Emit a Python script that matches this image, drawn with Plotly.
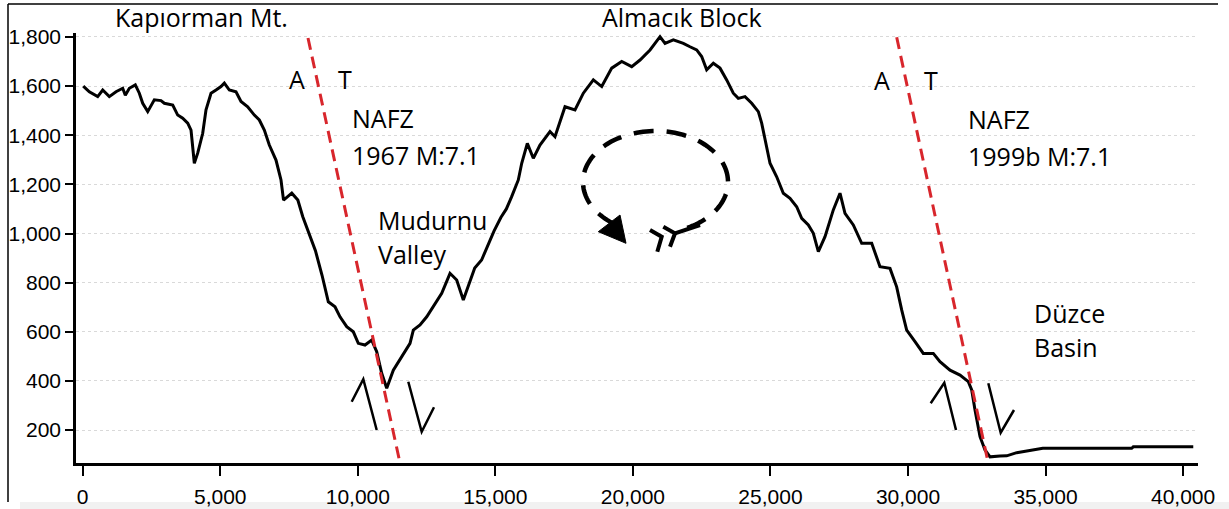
import numpy as np
import plotly.graph_objects as go

# topographic profile across the Almacik block (distance in m, elevation in m)
distance = [
    20, 240, 545, 727, 967, 1210, 1454, 1549, 1695, 1912, 2058, 2181, 2363, 2603,
    2846, 2967, 3272, 3453, 3635, 3817, 3937, 4057, 4180, 4362, 4482, 4664, 4846,
    5027, 5148, 5330, 5572, 5754, 5997, 6239, 6420, 6602, 6783, 7026, 7208, 7300,
    7600, 7820, 8000, 8220, 8460, 8700, 8928, 9171, 9353, 9597, 9837, 10018, 10262,
    10505, 10687, 10869, 11051, 11291, 11596, 11898, 12018, 12261, 12505, 12745,
    13050, 13352, 13595, 13835, 14079, 14250, 14500, 14744, 14950, 15200, 15400,
    15593, 15834, 15958, 16162, 16380, 16622, 16986, 17168, 17532, 17895, 18198,
    18562, 18867, 19230, 19593, 19957, 20259, 20623, 20986, 21168, 21470, 21834,
    22075, 22318, 22500, 22682, 22924, 23166, 23409, 23650, 23832, 24075, 24318,
    24560, 24681, 24802, 24984, 25227, 25468, 25711, 25954, 26136, 26377, 26559,
    26741, 26983, 27285, 27528, 27710, 28012, 28317, 28681, 28982, 29346, 29588,
    29770, 29952, 30255, 30556, 30920, 31163, 31527, 31890, 32192, 32316, 32436,
    32618, 32800, 32982, 33345, 33588, 33951, 34435, 34556, 34900, 38130, 38190,
    40370,
]
elevation = [
    1600, 1577, 1557, 1584, 1557, 1577, 1591, 1563, 1591, 1605, 1571, 1530, 1496, 1544,
    1541, 1530, 1523, 1482, 1469, 1449, 1421, 1286, 1327, 1408, 1503, 1571, 1584,
    1598, 1612, 1584, 1577, 1537, 1516, 1482, 1462, 1421, 1360, 1299, 1218, 1136,
    1164, 1136, 1068, 1000, 930, 830, 722, 702, 661, 621, 600, 553, 546,
    566, 519, 431, 370, 444, 498, 553, 607, 628, 661, 702,
    757, 838, 811, 729, 811, 860, 892, 960, 1010, 1065, 1100,
    1150, 1218, 1286, 1367, 1306, 1360, 1415, 1394, 1516, 1503, 1571,
    1625, 1598, 1673, 1700, 1679, 1706, 1747, 1801, 1774, 1788, 1774,
    1760, 1747, 1720, 1666, 1693, 1673, 1625, 1571, 1550, 1557, 1530,
    1496, 1449, 1381, 1286, 1231, 1164, 1143, 1109, 1062, 1035, 1001,
    926, 987, 1096, 1164, 1082, 1035, 960, 960, 865, 858, 783,
    689, 607, 560, 512, 512, 478, 444, 424, 397, 363, 282,
    173, 119, 91, 94, 95, 108, 116, 119, 126, 126, 132,
    132,
]
x_ticks = [0, 5000, 10000, 15000, 20000, 25000, 30000, 35000, 40000]
y_ticks = [200, 400, 600, 800, 1000, 1200, 1400, 1600, 1800]

# page / plot-area geometry
W, H = 1229, 509
L, R, T, B = 76, 31, 33, 46
XMIN, XMAX = -244, 40542
YMIN, YMAX = 66, 1816


def dx(px):
    return XMIN + (px - L) / (W - L - R) * (XMAX - XMIN)


def dy(py):
    return YMIN + (H - B - py) / (H - T - B) * (YMAX - YMIN)


def pxp(px):
    return (px - L) / (W - L - R)


def pyp(py):
    return (H - B - py) / (H - T - B)


def path(points, close=False):
    s = "M " + " L ".join(f"{dx(a)},{dy(b)}" for a, b in points)
    return s + (" Z" if close else "")


fig = go.Figure()

fig.add_trace(
    go.Scatter(
        x=distance,
        y=elevation,
        mode="lines",
        line=dict(color="black", width=3),
        showlegend=False,
    )
)

shapes = []

# fault traces
red = "#d8262c"
for top, bot in [((308, 38), (400, 463)), ((896.7, 37.3), (988.3, 463.3))]:
    shapes.append(dict(
        type="line", xref="x", yref="y",
        x0=dx(top[0]), y0=dy(top[1]), x1=dx(bot[0]), y1=dy(bot[1]),
        line=dict(color=red, width=3, dash="12px,7px"),
    ))

# half-arrows (relative motion)
for pts in [
    [(376.7, 430), (363.3, 379.3), (351.7, 401.7)],
    [(408.3, 381.7), (421.7, 431.7), (434, 407.3)],
    [(956, 430), (944.3, 382.7), (930.7, 403.3)],
    [(988.3, 383.3), (1000.7, 432.7), (1014, 410)],
]:
    shapes.append(dict(type="path", xref="x", yref="y", path=path(pts),
                       line=dict(color="black", width=2.5)))

# rotation arrow
cx, cy, rx, ry = 655.5, 182, 72.5, 51
ang = np.radians(np.linspace(64, -236, 120))
arc = list(zip(cx + rx * np.cos(ang), cy + ry * np.sin(ang)))
shapes.append(dict(type="path", xref="x", yref="y", path=path(arc),
                   line=dict(color="black", width=4.5, dash="20px,13px")))
shapes.append(dict(type="path", xref="x", yref="y",
                   path=path([(598.3, 231.7), (620, 215), (626, 243.3)], close=True),
                   fillcolor="black", line=dict(color="black", width=1)))
for pts in [
    [(700, 225), (675, 233.3)],
    [(663.3, 226.7), (675, 233.3), (670, 246.7)],
    [(650, 230), (661.7, 236.7), (657.3, 251.7)],
]:
    shapes.append(dict(type="path", xref="x", yref="y", path=path(pts),
                       line=dict(color="black", width=4)))

# frame of the original figure
shapes.append(dict(type="line", xref="paper", yref="paper",
                   x0=pxp(8), y0=pyp(4), x1=pxp(1218), y1=pyp(4),
                   line=dict(color="black", width=1.5)))
shapes.append(dict(type="line", xref="paper", yref="paper",
                   x0=pxp(8), y0=pyp(4), x1=pxp(8), y1=pyp(502),
                   line=dict(color="black", width=1.5)))
shapes.append(dict(type="rect", xref="paper", yref="paper", layer="below",
                   x0=pxp(20), y0=pyp(502), x1=pxp(1229), y1=pyp(509),
                   fillcolor="#f1f1f1", line=dict(width=0)))

label_font = dict(family="Open Sans, sans-serif", size=25, color="black")
labels = [
    ("Kapıorman Mt.", 201, 17, "center"),
    ("Almacık Block", 682, 17, "center"),
    ("A", 297, 79, "center"),
    ("T", 345, 79, "center"),
    ("NAFZ", 350, 118, "left"),
    ("1967 M:7.1", 350, 155, "left"),
    ("Mudurnu", 376, 220, "left"),
    ("Valley", 376, 254, "left"),
    ("A", 881.7, 80, "center"),
    ("T", 931, 80, "center"),
    ("NAFZ", 966, 119, "left"),
    ("1999b M:7.1", 966, 156, "left"),
    ("Düzce", 1032, 313, "left"),
    ("Basin", 1032, 347, "left"),
]
annotations = [
    dict(text=t, x=pxp(px), y=pyp(py), xref="paper", yref="paper",
         xanchor=anc, yanchor="middle", showarrow=False, font=label_font)
    for t, px, py, anc in labels
]

axis_font = dict(family="Liberation Sans, Arial, sans-serif", size=21, color="black")

fig.update_layout(
    width=W,
    height=H,
    margin=dict(l=L, r=R, t=T, b=B),
    paper_bgcolor="white",
    plot_bgcolor="white",
    shapes=shapes,
    annotations=annotations,
    xaxis=dict(
        range=[XMIN, XMAX],
        tickvals=x_ticks,
        tickformat=",",
        ticks="outside",
        ticklen=10,
        tickwidth=2,
        tickcolor="black",
        ticklabelstandoff=3,
        automargin=False,
        showline=True,
        linewidth=2.5,
        linecolor="black",
        showgrid=False,
        zeroline=False,
        tickfont=axis_font,
    ),
    yaxis=dict(
        range=[YMIN, YMAX],
        tickvals=y_ticks,
        tickformat=",",
        ticks="outside",
        ticklen=8,
        tickwidth=2,
        tickcolor="black",
        automargin=False,
        showline=True,
        linewidth=2.5,
        linecolor="black",
        showgrid=True,
        gridcolor="#d9d9d9",
        gridwidth=1,
        griddash="dot",
        zeroline=False,
        tickfont=axis_font,
    ),
)

fig.write_html(
    "out.html",
    config={"displayModeBar": False},
    post_script="document.body.style.margin='0';",
)
